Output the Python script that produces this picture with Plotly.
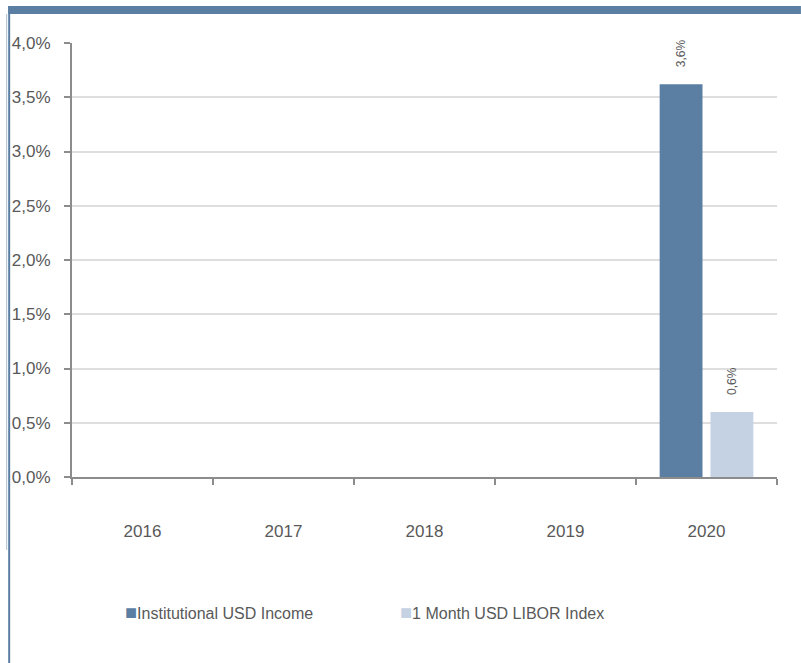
import plotly.graph_objects as go

years = ["2016", "2017", "2018", "2019", "2020"]
series_names = ["Institutional USD Income", "1 Month USD LIBOR Index"]
institutional = [None, None, None, None, 3.62]
libor = [None, None, None, None, 0.60]
bar_labels_inst = ["", "", "", "", "3,6%"]
bar_labels_libor = ["", "", "", "", "0,6%"]
y_ticks = [0, 0.5, 1.0, 1.5, 2.0, 2.5, 3.0, 3.5, 4.0]
y_tick_text = [f"{v:.1f}".replace(".", ",") + "%" for v in y_ticks]

dark = "#5b7fa3"
light = "#c5d2e3"
text_col = "#595959"
FONT = "Liberation Sans, Arial, sans-serif"

W, H = 801, 663
L, R, T, B = 70, 24, 43, 186
pw, ph = W - L - R, H - T - B

def px_x(p):
    return (p - L) / pw

def px_y(p):
    return 1 - (p - T) / ph

fig = go.Figure()
fig.add_trace(go.Bar(x=years, y=institutional, name=series_names[0],
                     marker=dict(color=dark, line=dict(width=0)), showlegend=False))
fig.add_trace(go.Bar(x=years, y=libor, name=series_names[1],
                     marker=dict(color=light, line=dict(width=0)), showlegend=False))

annotations = []
slot = pw / len(years) * (1 - 0.279) / 2
for vals, labs, shift in [(institutional, bar_labels_inst, -slot / 2), (libor, bar_labels_libor, slot / 2)]:
    for i, (v, t) in enumerate(zip(vals, labs)):
        if v is None or not t:
            continue
        annotations.append(dict(x=i, y=v, xref="x", yref="y", text=t, showarrow=False,
                                textangle=-90, xshift=shift, yanchor="bottom", yshift=15,
                                font=dict(family=FONT, size=12, color=text_col)))

# legend built from series names
legend_x = [121, 397]
for name, col, lx in zip(series_names, [dark, light], legend_x):
    annotations.append(dict(x=px_x(lx), y=px_y(612), xref="paper", yref="paper",
                            xanchor="left", yanchor="middle", showarrow=False,
                            text=f'<span style="color:{col};font-size:20px">■</span>{name}',
                            font=dict(family=FONT, size=16, color=text_col)))

shapes = [
    dict(type="rect", xref="paper", yref="paper", x0=px_x(6), x1=px_x(801), y0=px_y(14), y1=px_y(6),
         fillcolor=dark, line=dict(width=0), layer="above"),
    dict(type="rect", xref="paper", yref="paper", x0=px_x(6), x1=px_x(8), y0=px_y(663), y1=px_y(6),
         fillcolor=dark, line=dict(width=0), layer="above"),
    dict(type="line", xref="paper", yref="paper", x0=px_x(4.5), x1=px_x(4.5), y0=px_y(550), y1=px_y(14),
         line=dict(color="#a9bdd2", width=1), layer="above"),
]

fig.update_layout(
    width=W, height=H,
    margin=dict(l=L, r=R, t=T, b=B, pad=0),
    paper_bgcolor="white", plot_bgcolor="white",
    barmode="group", bargap=0.279, bargroupgap=0.157,
    font=dict(family=FONT, size=16, color=text_col),
    annotations=annotations, shapes=shapes,
    showlegend=False,
)
fig.update_xaxes(
    type="category", range=[-0.5, len(years) - 0.5], autorange=False,
    showgrid=False, showline=True, linecolor="#8c8c8c", linewidth=2,
    ticks="outside", ticklen=6, tickcolor="#8c8c8c", tickwidth=2, tickson="boundaries",
    tickfont=dict(family=FONT, size=17, color=text_col), ticklabelstandoff=38,
)
fig.update_yaxes(
    range=[0, 4.0], autorange=False, tickvals=y_ticks, ticktext=y_tick_text,
    showgrid=True, gridcolor="#dedede", gridwidth=2, zeroline=False,
    showline=True, linecolor="#8c8c8c", linewidth=2,
    ticks="outside", ticklen=6, tickcolor="#8c8c8c", tickwidth=2,
    tickfont=dict(family=FONT, size=17, color=text_col), ticklabelstandoff=10,
)

fig.write_html("out.html", config={"displayModeBar": False},
               post_script="document.body.style.margin='0';document.body.style.padding='0';")
